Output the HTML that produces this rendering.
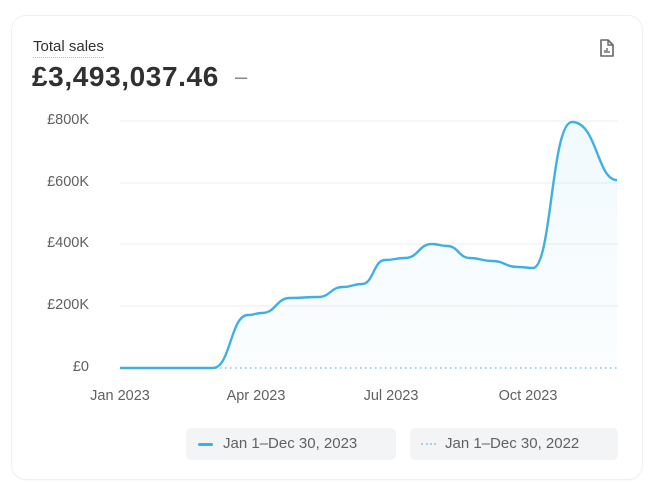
<!DOCTYPE html>
<html><head><meta charset="utf-8"><style>
html,body{margin:0;padding:0;background:#fff;width:657px;height:494px;overflow:hidden;font-family:"Liberation Sans",sans-serif;}
.card{position:absolute;left:12px;top:16px;width:630px;height:463px;border-radius:14px;background:#fff;box-shadow:0 0 0 1px #eef0f2,0 1px 3px rgba(0,0,0,0.05);}
.t{position:absolute;left:33px;top:38px;font-size:15px;color:#303030;border-bottom:1.5px dotted #bbb;padding-bottom:2px;}
.n{position:absolute;left:32px;top:61px;font-size:28px;font-weight:bold;color:#303030;letter-spacing:0.6px;}
.d{position:absolute;left:235px;top:64px;font-size:22px;color:#888;}
.yl{position:absolute;right:568px;font-size:14.5px;color:#616161;}
.xl{position:absolute;top:388px;font-size:14.5px;color:#616161;transform:translateX(-50%);}
.lg{position:absolute;top:428px;height:32px;background:#f3f4f5;border-radius:5px;font-size:15px;color:#616161;line-height:32px;}
</style></head><body>
<div class="card"></div>
<div class="t">Total sales</div>
<div class="n">£3,493,037.46</div>
<div class="d">–</div>
<svg style="position:absolute;left:597px;top:38px" width="20" height="20" viewBox="0 0 20 20"><path d="M4 2h7l5 5v11H4z" fill="none" stroke="#666" stroke-width="1.6" stroke-linejoin="round"/><path d="M11 2v5h5" fill="none" stroke="#666" stroke-width="1.4"/><path d="M8 15v-3M10 15v-5M12 15v-2" stroke="#666" stroke-width="1.4"/></svg>
<div class="yl" style="top:112px">£800K</div>
<div class="yl" style="top:174px">£600K</div>
<div class="yl" style="top:235px">£400K</div>
<div class="yl" style="top:297px">£200K</div>
<div class="yl" style="top:359px">£0</div>
<svg style="position:absolute;left:0;top:0" width="657" height="494">
<defs><linearGradient id="g" x1="0" y1="0" x2="0" y2="1"><stop offset="0" stop-color="#4bb8e5" stop-opacity="0.08"/><stop offset="1" stop-color="#4bb8e5" stop-opacity="0.02"/></linearGradient></defs>
<g stroke="#ebedef" stroke-width="1"><line x1="120" y1="121" x2="618" y2="121"/><line x1="120" y1="183" x2="618" y2="183"/><line x1="120" y1="244" x2="618" y2="244"/><line x1="120" y1="306" x2="618" y2="306"/></g>
<line x1="120" y1="368" x2="618" y2="368" stroke="#9fd3ea" stroke-width="2" stroke-dasharray="1.5 3.5"/>
<path d="M120,368 L213,368 C230.5,368 230.5,315 248,315 C255,315 255,313 262,313 C276,313 276,298 290,298 C304,298 304,297 318,297 C330.5,297 330.5,287 343,287 C352.5,287 352.5,284 362,284 C373.5,284 373.5,260 385,260 C395,260 395,258 405,258 C418.5,258 418.5,244 432,244 C439.5,244 439.5,246 447,246 C458.5,246 458.5,258 470,258 C481,258 481,261 492,261 C505,261 505,267 518,267 C525.5,267 525.5,268 533,268 C551.5,268 551.5,122 572,122 C597,122 597,180 617,180" fill="none" stroke="#3fb0e0" stroke-width="2.4"/>
<path d="M120,368 L213,368 C230.5,368 230.5,315 248,315 C255,315 255,313 262,313 C276,313 276,298 290,298 C304,298 304,297 318,297 C330.5,297 330.5,287 343,287 C352.5,287 352.5,284 362,284 C373.5,284 373.5,260 385,260 C395,260 395,258 405,258 C418.5,258 418.5,244 432,244 C439.5,244 439.5,246 447,246 C458.5,246 458.5,258 470,258 C481,258 481,261 492,261 C505,261 505,267 518,267 C525.5,267 525.5,268 533,268 C551.5,268 551.5,122 572,122 C597,122 597,180 617,180 L617,368 Z" fill="url(#g)"/>
</svg>
<div class="xl" style="left:120px">Jan 2023</div>
<div class="xl" style="left:256px">Apr 2023</div>
<div class="xl" style="left:391px">Jul 2023</div>
<div class="xl" style="left:528px">Oct 2023</div>
<div class="lg" style="left:186px;width:210px"><span style="display:inline-block;width:15px;height:3px;background:#3fb0e0;border-radius:2px;vertical-align:middle;margin:0 10px 0 12px"></span>Jan 1–Dec 30, 2023</div>
<div class="lg" style="left:410px;width:208px"><span style="display:inline-block;width:15px;height:0;border-top:2px dotted #9fd3ea;vertical-align:middle;margin:0 9px 0 11px"></span>Jan 1–Dec 30, 2022</div>
</body></html>
